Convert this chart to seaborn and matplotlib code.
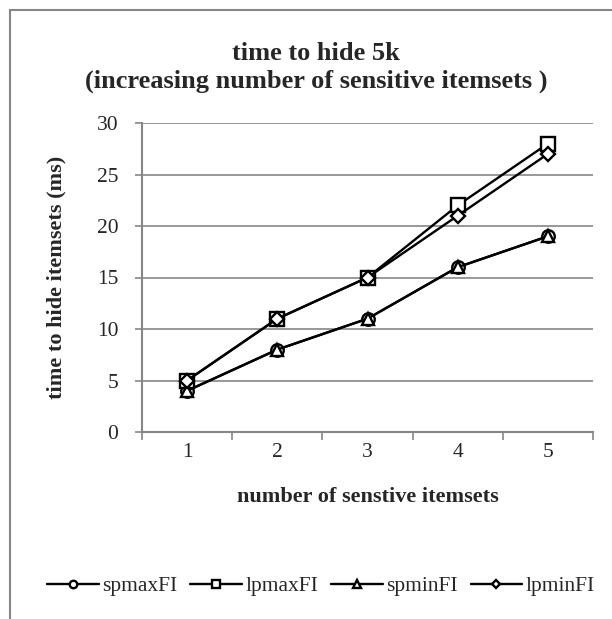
import matplotlib
matplotlib.use("Agg")
import matplotlib.pyplot as plt
import seaborn as sns
import pandas as pd
import numpy as np
from matplotlib.patches import Rectangle

categories = [1, 2, 3, 4, 5]
spmaxFI = [4, 8, 11, 16, 19]
lpmaxFI = [5, 11, 15, 22, 28]
spminFI = [4, 8, 11, 16, 19]
lpminFI = [5, 11, 15, 21, 27]
series_names = ["spmaxFI", "lpmaxFI", "spminFI", "lpminFI"]
series_values = [spmaxFI, lpmaxFI, spminFI, lpminFI]
markers = ["o", "s", "^", "D"]
marker_sizes = [9, 10, 9, 7]

sns.set_theme(style="white")
plt.rcParams['font.family'] = ['Liberation Serif', 'DejaVu Serif']

W, H = 612, 619
fig = plt.figure(figsize=(W / 100, H / 100), dpi=100)
ax = fig.add_axes([142 / W, 1 - 432 / H, (593 - 142) / W, (432 - 123) / H])

gray = "#868686"
df = pd.DataFrame({
    "x": np.tile(categories, len(series_names)),
    "y": np.concatenate(series_values),
    "series": np.repeat(series_names, len(categories)),
})

for name, m, ms in zip(series_names, markers, marker_sizes):
    sub = df[df["series"] == name]
    sns.lineplot(data=sub, x="x", y="y", ax=ax, color="black", linewidth=1.7,
                 marker=m, markersize=ms, markerfacecolor="white",
                 markeredgecolor="black", markeredgewidth=1.7, label=name,
                 zorder=3)

ax.set_xlim(0.5, 5.5)
ax.set_ylim(0, 30)
ax.set_yticks(range(0, 31, 5))
ax.yaxis.grid(True, color=gray, linewidth=1.2)
ax.xaxis.grid(False)
ax.set_xticks(np.arange(0.5, 5.6, 1.0))
ax.set_xticklabels([])
ax.set_xticks(categories, minor=True)
ax.set_xticklabels([str(c) for c in categories], minor=True, fontsize=15.5)
ax.tick_params(axis="x", which="major", direction="out", length=6, width=1.2,
               color=gray, bottom=True)
ax.tick_params(axis="x", which="minor", length=0, pad=8)
ax.tick_params(axis="y", direction="out", length=5, width=1.2, color=gray,
               left=True, labelsize=15.5, pad=12)
for s in ["top", "right"]:
    ax.spines[s].set_visible(False)
for s in ["left", "bottom"]:
    ax.spines[s].set_color(gray)
    ax.spines[s].set_linewidth(1.5)

ax.set_xlabel("number of senstive itemsets", fontsize=16, fontweight="bold",
              labelpad=18)
ax.set_ylabel("time to hide itemsets (ms)", fontsize=16, fontweight="bold",
              labelpad=22)

fig.text(316 / W, 1 - 53 / H, "time to hide 5k", ha="center", va="center",
         fontsize=19, fontweight="bold")
fig.text(316 / W, 1 - 81 / H, "(increasing number of sensitive itemsets )",
         ha="center", va="center", fontsize=19, fontweight="bold")

handles, labels = ax.get_legend_handles_labels()
ax.legend(handles, labels, loc="center", bbox_to_anchor=(321 / W, 1 - 586 / H),
          bbox_transform=fig.transFigure, ncol=4, frameon=False, fontsize=15.5,
          handlelength=2.4, handletextpad=0.15, columnspacing=0.6,
          markerscale=0.6)

fig.patches.append(Rectangle((10 / W, -0.1), 1.2, 1 - 10 / H + 0.1,
                             transform=fig.transFigure, fill=False,
                             edgecolor=gray, linewidth=1.5))

fig.savefig("out.png", dpi=100)
